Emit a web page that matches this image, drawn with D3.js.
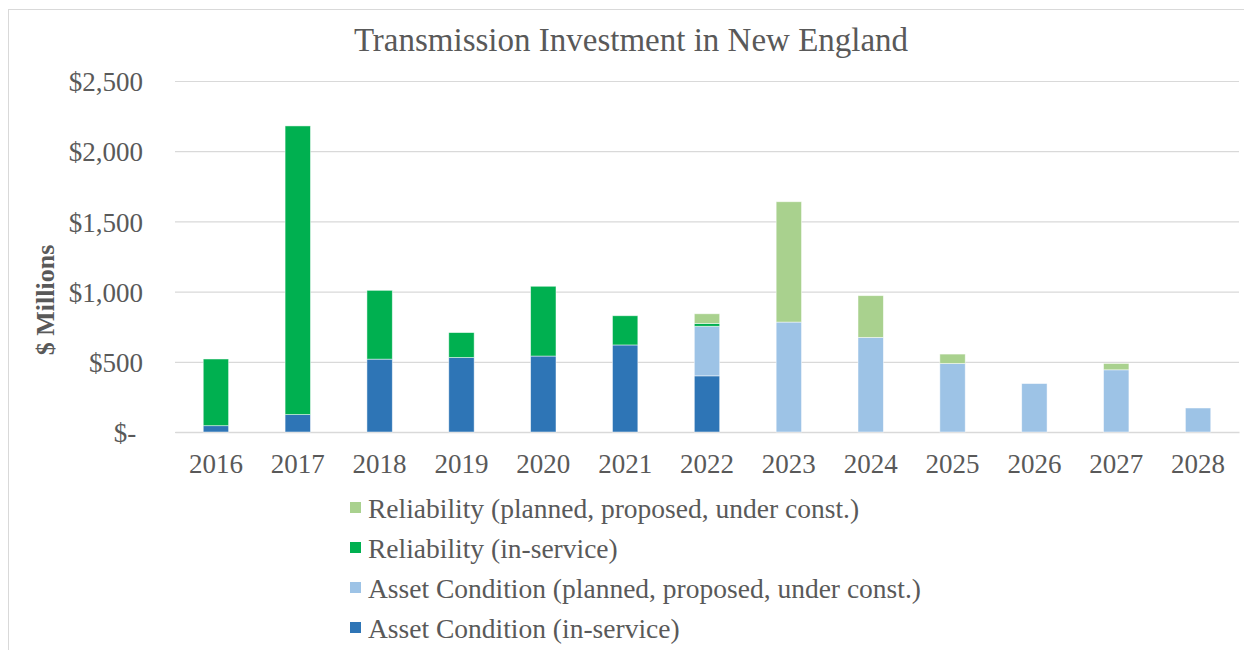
<!DOCTYPE html>
<html lang="en">
<head>
  <meta charset="UTF-8">
  <title>Transmission Investment in New England</title>
  <script src="https://d3js.org/d3.v7.min.js"></script>
  <style>
    body {
      margin: 0;
      background: white;
    }

    svg {
      display: block;
      font-family: "Liberation Serif", "Times New Roman", serif;
    }

    .tick text {
      fill: #595959;
      font-size: 27px;
    }
  </style>
</head>
<body>
  <div id="chart"></div>
  <script>
    const years = ['2016', '2017', '2018', '2019', '2020', '2021', '2022', '2023', '2024', '2025', '2026', '2027', '2028']
    const assetInService = [45, 124, 519, 531, 541, 620, 400, 0, 0, 0, 0, 0, 0]
    const assetPlanned = [0, 0, 0, 0, 0, 0, 353, 783, 674, 488, 345, 443, 171]
    const reliabilityInService = [475, 2056, 490, 177, 497, 208, 20, 0, 0, 0, 0, 0, 0]
    const reliabilityPlanned = [0, 0, 0, 0, 0, 0, 69, 857, 297, 67, 0, 45, 0]
    const yTicks = [0, 500, 1000, 1500, 2000, 2500]

    // stacked bottom to top
    const series = [
      { key: 'assetInService', name: 'Asset Condition (in-service)', color: '#2e75b6', values: assetInService },
      { key: 'assetPlanned', name: 'Asset Condition (planned, proposed, under const.)', color: '#9dc3e6', values: assetPlanned },
      { key: 'reliabilityInService', name: 'Reliability (in-service)', color: '#00b050', values: reliabilityInService },
      { key: 'reliabilityPlanned', name: 'Reliability (planned, proposed, under const.)', color: '#a9d18e', values: reliabilityPlanned }
    ]

    const width = 1244
    const height = 650
    const margin = { left: 175, right: 5, top: 81, bottom: 218 }

    const rows = years.map((y, i) => {
      const r = { year: y }
      series.forEach(s => r[s.key] = s.values[i])
      return r
    })

    const stacked = d3.stack().keys(series.map(s => s.key))(rows)

    const svg = d3.select('#chart')
      .append('svg')
      .attr('width', width)
      .attr('height', height)

    // chart frame
    svg.append('rect')
      .attr('x', 8.5)
      .attr('y', 9.5)
      .attr('width', 1300)
      .attr('height', 700)
      .attr('fill', 'white')
      .attr('stroke', '#d9d9d9')

    const x = d3.scaleBand()
      .domain(years)
      .range([margin.left, width - margin.right])
      .paddingInner(0.69)
      .paddingOuter(0.345)

    const y = d3.scaleLinear()
      .domain([0, 2500])
      .range([height - margin.bottom, margin.top])

    const yAxis = d3.axisLeft(y)
      .tickValues(yTicks)
      .tickSize(-(width - margin.right - margin.left))
      .tickPadding(32)
      .tickFormat(d => d === 0 ? '$-\u00a0' : '$' + d3.format(',')(d))

    svg.append('g')
      .attr('transform', `translate(${margin.left},0)`)
      .attr('font-family', null)
      .call(yAxis)
      .attr('font-family', null)
      .attr('font-size', null)
      .call(g => g.select('.domain').remove())
      .call(g => g.selectAll('.tick line').attr('stroke', '#d9d9d9').attr('stroke-width', 1.2))
      .call(g => g.selectAll('.tick text').attr('dy', '0.36em'))

    const xAxis = d3.axisBottom(x)
      .tickSize(0)
      .tickPadding(22)

    svg.append('g')
      .attr('transform', `translate(0,${height - margin.bottom})`)
      .call(xAxis)
      .attr('font-family', null)
      .attr('font-size', null)
      .call(g => g.select('.domain').attr('stroke', '#d9d9d9').attr('stroke-width', 1.5))

    svg.append('g')
      .selectAll('g')
      .data(stacked)
      .join('g')
      .attr('fill', (d, i) => series[i].color)
      .selectAll('rect')
      .data(d => d)
      .join('rect')
      .attr('x', d => x(d.data.year))
      .attr('width', x.bandwidth())
      .attr('y', d => y(d[1]))
      .attr('height', d => y(d[0]) - y(d[1]))
      .attr('stroke', 'white')
      .attr('stroke-opacity', 0.6)
      .attr('stroke-width', d => d[1] > d[0] ? 0.8 : 0)

    svg.append('text')
      .attr('x', 631)
      .attr('y', 51)
      .attr('text-anchor', 'middle')
      .attr('fill', '#595959')
      .attr('font-size', '33px')
      .text('Transmission Investment in New England')

    svg.append('text')
      .attr('transform', `translate(54, 300) rotate(-90)`)
      .attr('text-anchor', 'middle')
      .attr('fill', '#595959')
      .attr('font-size', '26px')
      .attr('font-weight', 'bold')
      .text('$ Millions')

    // legend, top entry is the top of the stack
    const legendItems = series.slice().reverse()
    const legend = svg.append('g')
      .attr('transform', 'translate(350, 508)')

    const item = legend.selectAll('g')
      .data(legendItems)
      .join('g')
      .attr('transform', (d, i) => `translate(0, ${i * 40})`)

    item.append('rect')
      .attr('x', 0)
      .attr('y', -6)
      .attr('width', 11)
      .attr('height', 11)
      .attr('fill', d => d.color)

    item.append('text')
      .attr('x', 18)
      .attr('y', 0)
      .attr('dy', '0.35em')
      .attr('fill', '#595959')
      .attr('font-size', '27.5px')
      .text(d => d.name)
  </script>
</body>
</html>
